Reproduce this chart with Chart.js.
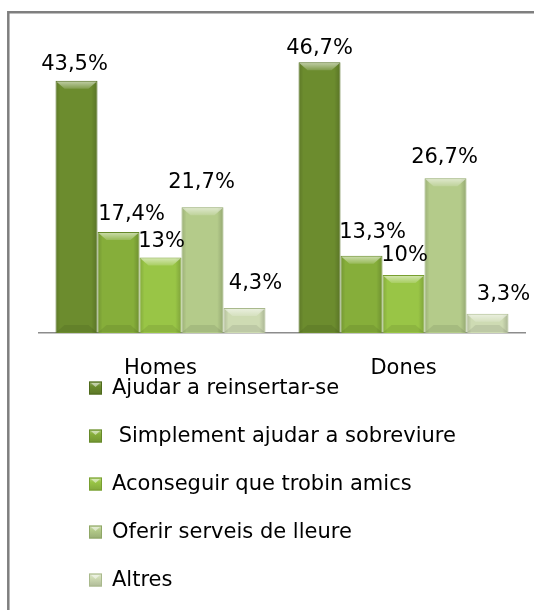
<!DOCTYPE html>
<html>
<head>
<meta charset="utf-8">
<script src="https://cdn.jsdelivr.net/npm/chart.js@4/dist/chart.umd.min.js"></script>
<style>
  html, body { margin: 0; padding: 0; background: #ffffff; }
  #wrap { position: absolute; left: 0; top: 0; width: 534px; height: 610px; }
</style>
</head>
<body>
<div id="wrap"><canvas id="c" width="534" height="610"></canvas></div>
<script>
// ---- data ----
const categories = ['Homes', 'Dones'];
const seriesNames = ['Ajudar a reinsertar-se', ' Simplement ajudar a sobreviure', 'Aconseguir que trobin amics', 'Oferir serveis de lleure', 'Altres'];
const ajudarValues = [43.5, 46.7];
const simplementValues = [17.4, 13.3];
const aconseguirValues = [13, 10];
const oferirValues = [21.7, 26.7];
const altresValues = [4.3, 3.3];
const yAxisMax = 50;

// ---- styles ----
const seriesColors = ['#6C8C2E', '#86AE3A', '#99C546', '#B4CB8A', '#CEDBB3'];
const seriesBorders = ['#4f6a1c', '#66892a', '#789f30', '#8fa766', '#a9b98c'];
// label nudges [dx, gap above bar top] per series, per category
const labelNudges = [
  [[-2, 11], [0, 8]],
  [[13, 12], [11, 18]],
  [[1, 11], [1, 14]],
  [[-1, 19], [-1, 15]],
  [[11, 19], [16, 14]]
];
const FONT = '"DejaVu Sans", "Liberation Sans", sans-serif';
const FONT_SIZE = 21;

const seriesValues = [ajudarValues, simplementValues, aconseguirValues, oferirValues, altresValues];

function fmt(v) {
  return String(v).replace('.', ',') + '%';
}

function shade(hex, amt) {
  const n = parseInt(hex.slice(1), 16);
  let r = (n >> 16) & 255, g = (n >> 8) & 255, b = n & 255;
  const f = c => Math.max(0, Math.min(255, Math.round(amt >= 0 ? c + (255 - c) * amt : c * (1 + amt))));
  return 'rgb(' + f(r) + ',' + f(g) + ',' + f(b) + ')';
}

const frameLegendPlugin = {
  id: 'frameLegend',
  beforeDraw(chart) {
    const ctx = chart.ctx;
    ctx.save();
    ctx.strokeStyle = '#7f7f7f';
    ctx.lineWidth = 2.5;
    ctx.beginPath();
    ctx.moveTo(8.3, 610);
    ctx.lineTo(8.3, 12.2);
    ctx.lineTo(534, 12.2);
    ctx.stroke();
    ctx.restore();
  },
  afterDatasetsDraw(chart) {
    const ctx = chart.ctx;
    ctx.save();
    chart.data.datasets.forEach((ds, di) => {
      const meta = chart.getDatasetMeta(di);
      meta.data.forEach((bar, i) => {
        const w = bar.width;
        const left = bar.x - w / 2;
        const top = bar.y;
        const bottom = bar.base;
        const h = bottom - top;
        const bev = Math.min(8, h / 2);
        // side shading
        const sg = ctx.createLinearGradient(left, 0, left + w, 0);
        sg.addColorStop(0, 'rgba(0,0,0,0.14)');
        sg.addColorStop(0.12, 'rgba(0,0,0,0.0)');
        sg.addColorStop(0.85, 'rgba(0,0,0,0.0)');
        sg.addColorStop(1, 'rgba(0,0,0,0.18)');
        ctx.fillStyle = sg;
        ctx.fillRect(left + 1, top + 1, w - 2, h - 1);
        // top bevel
        const g = ctx.createLinearGradient(0, top, 0, top + bev);
        g.addColorStop(0, 'rgba(255,255,255,0.6)');
        g.addColorStop(1, 'rgba(255,255,255,0.15)');
        ctx.fillStyle = g;
        ctx.beginPath();
        ctx.moveTo(left + 1, top + 1);
        ctx.lineTo(left + w - 1, top + 1);
        ctx.lineTo(left + w - 1 - bev, top + bev);
        ctx.lineTo(left + 1 + bev, top + bev);
        ctx.closePath();
        ctx.fill();
        // bottom bevel
        ctx.fillStyle = 'rgba(0,0,0,0.08)';
        ctx.beginPath();
        ctx.moveTo(left + 1, bottom - 1);
        ctx.lineTo(left + w - 1, bottom - 1);
        ctx.lineTo(left + w - 1 - bev, bottom - bev);
        ctx.lineTo(left + 1 + bev, bottom - bev);
        ctx.closePath();
        ctx.fill();
        // value label
        const nud = labelNudges[di][i];
        ctx.fillStyle = '#000000';
        ctx.font = FONT_SIZE + 'px ' + FONT;
        ctx.textAlign = 'center';
        ctx.textBaseline = 'alphabetic';
        ctx.fillText(fmt(ds.data[i]), bar.x + nud[0], top - nud[1]);
      });
    });
    ctx.restore();
  },
  afterDraw(chart) {
    const ctx = chart.ctx;
    ctx.save();
    const x0 = 89, size = 13, startY = 388, step = 48;
    chart.data.datasets.forEach((ds, di) => {
      const cy = startY + di * step;
      const base = ds.backgroundColor;
      const g = ctx.createLinearGradient(0, cy - size / 2, 0, cy + size / 2);
      g.addColorStop(0, shade(base, 0.35));
      g.addColorStop(0.35, base);
      g.addColorStop(1, shade(base, -0.15));
      ctx.fillStyle = g;
      ctx.fillRect(x0, cy - size / 2, size, size);
      ctx.strokeStyle = ds.borderColor;
      ctx.lineWidth = 1;
      ctx.strokeRect(x0 + 0.5, cy - size / 2 + 0.5, size - 1, size - 1);
      ctx.fillStyle = 'rgba(255,255,255,0.5)';
      ctx.beginPath();
      ctx.moveTo(x0 + 2, cy - size / 2 + 1.5);
      ctx.lineTo(x0 + size - 2, cy - size / 2 + 1.5);
      ctx.lineTo(x0 + size / 2, cy - 1);
      ctx.closePath();
      ctx.fill();
      ctx.fillStyle = '#000000';
      ctx.font = FONT_SIZE + 'px ' + FONT;
      ctx.textAlign = 'left';
      ctx.textBaseline = 'middle';
      ctx.fillText(ds.label, x0 + size + 10, cy + 1);
    });
    ctx.restore();
  }
};

const datasets = seriesNames.map((name, i) => ({
  label: name,
  data: seriesValues[i],
  backgroundColor: seriesColors[i],
  borderColor: seriesBorders[i],
  borderWidth: 1,
  categoryPercentage: 0.864,
  barPercentage: 1.0
}));

new Chart(document.getElementById('c'), {
  type: 'bar',
  data: { labels: categories, datasets: datasets },
  options: {
    responsive: false,
    animation: false,
    devicePixelRatio: 1,
    layout: { padding: { left: 39, right: 9, top: 43, bottom: 0 } },
    plugins: {
      legend: { display: false },
      tooltip: { enabled: false },
      title: { display: false }
    },
    scales: {
      y: {
        display: false,
        min: 0,
        max: yAxisMax
      },
      x: {
        grid: { display: false, drawTicks: false },
        border: { display: true, color: '#8c8c8c', width: 1.5 },
        ticks: {
          color: '#000000',
          font: { family: FONT, size: FONT_SIZE },
          padding: 23
        },
        afterFit(scale) { scale.height = 277; }
      }
    }
  },
  plugins: [frameLegendPlugin]
});
</script>
</body>
</html>
